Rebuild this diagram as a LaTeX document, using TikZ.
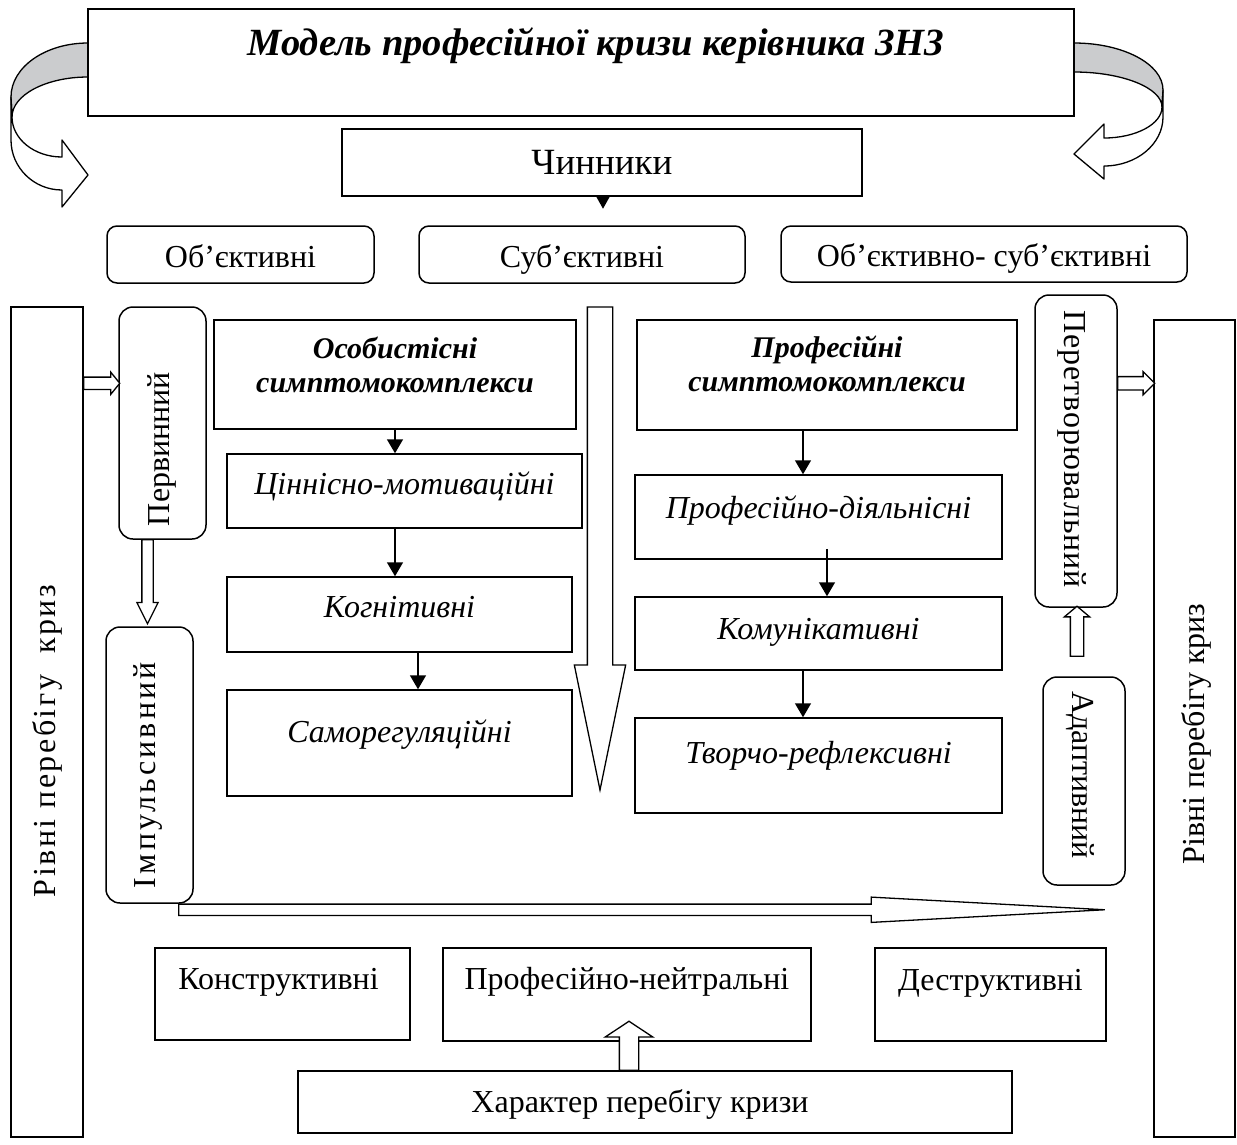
\documentclass[tikz,border=0pt]{standalone}
\usepackage{fontspec}
\setmainfont{Liberation Serif}
\usetikzlibrary{calc,shapes.arrows,arrows.meta}
\definecolor{BandGray}{HTML}{CBCCCE}
\newcommand{\normaltext}{\fontsize{32}{38}\selectfont}
\tikzset{
  box/.style={draw, line width=1.5, inner sep=0, font=\normaltext},
  rbox/.style={box, rounded corners=10, text height=25, text depth=0},
  lift/.style={text height=21, text depth=#1},
  symp/.style={box, font=\fontsize{32}{38}\selectfont\itshape},
  headbox/.style={box, align=center, font=\fontsize{30}{34}\selectfont\bfseries\itshape},
  vtext/.style={font=\normaltext, inner sep=0},
  spaced/.style={font=\normaltext\addfontfeature{LetterSpace=#1}},
  thin/.style={-{Triangle[length=14,width=16]}, line width=1.5},
  hollow/.style={single arrow, draw, fill=white, line width=1.3, inner xsep=0, outer sep=0, anchor=tail},
  band/.style={draw, line width=1.3, line join=round},
}

\begin{document}
\begin{tikzpicture}[x=1pt,y=-1pt]
  \useasboundingbox (0,0) rectangle (1237,1144);

  % curved arrows at the title
  \draw[band, fill=BandGray] (88,43) .. controls (45.5,43) and (11,67) .. (11,97) -- (12,117) .. controls (12,95) and (46,77) .. (88,77) -- cycle;
  \draw[band, fill=white] (11,97) -- (11,140) .. controls (11,167.6) and (33.8,190) .. (62,190) -- (62,207) -- (88,175) -- (62,140) -- (62,157) .. controls (34.4,157) and (12,139) .. (12,117) -- cycle;
  \draw[band, fill=BandGray] (1074,43) .. controls (1123,43) and (1163,64) .. (1163,90) -- (1162,107) .. controls (1162,88) and (1122.6,72) .. (1074,72) -- cycle;
  \draw[band, fill=white] (1163,90) -- (1163,117) .. controls (1163,144) and (1136.6,166) .. (1104,166) -- (1104,179) -- (1074,154) -- (1104,124) -- (1104,138) .. controls (1136,138) and (1162,124) .. (1162,107) -- cycle;

  \node[box, lift=40, text height=25.5, font=\fontsize{38.5}{42}\selectfont\bfseries\itshape, minimum width=986, minimum height=107] (title) at (581,62.5) {\hspace*{30pt}Модель професійної кризи керівника ЗНЗ};
  \node[box, font=\fontsize{37}{42}\selectfont, minimum width=520, minimum height=67] (chin) at (602,162.5) {Чинники};
  \coordinate (chintip) at ($(chin.south)+(1,12)$);
  \draw[-{Triangle[length=12,width=13]}, line width=1.5] ($(chin.south)+(1,0)$) -- (chintip);

  \node[rbox, minimum width=267, minimum height=57] (obj) at (240.5,254.5) {Об’єктивні};
  \node[rbox, minimum width=326, minimum height=57] (subj) at (582,254.5) {Суб’єктивні};
  \node[rbox, minimum width=406, minimum height=56] (objsubj) at (984,254) {Об’єктивно- суб’єктивні};

  % levels
  \node[box, minimum width=72, minimum height=830] (rivL) at (47,722) {};
  \node[vtext, spaced=8, rotate=90] (rivLtxt) at (47,741) {Рівні перебігу~ криз};
  \node[box, minimum width=81, minimum height=817] (rivR) at (1194.5,728.5) {};
  \node[vtext, rotate=90] (rivRtxt) at (1196,734) {Рівні перебігу криз};
  \node[rbox, rounded corners=14, minimum width=87, minimum height=232] (perv) at (162.5,423) {};
  \node[vtext, rotate=90] (pervtxt) at (162,449) {Первинний};
  \node[rbox, rounded corners=14, minimum width=87, minimum height=276] (imp) at (149.5,765) {};
  \node[vtext, spaced=10, rotate=90] (imptxt) at (148,775) {Імпульсивний};
  \node[rbox, rounded corners=14, minimum width=82, minimum height=312] (perekh) at (1076,451) {};
  \node[vtext, spaced=3, rotate=-90] (perekhtxt) at (1072,449) {Перетворювальний};
  \node[rbox, rounded corners=14, minimum width=82, minimum height=208] (adapt) at (1084,781) {};
  \node[vtext, rotate=-90] (adapttxt) at (1080,775) {Адаптивний};

  % symptom complexes
  \node[headbox, text depth=20, minimum width=362, minimum height=109] (os) at (395,374.5) {Особистісні\\симптомокомплекси};
  \node[symp, lift=14, minimum width=355, minimum height=74] (cm) at (404.5,491) {Ціннісно-мотиваційні};
  \node[symp, lift=15, minimum width=345, minimum height=75] (kog) at (399.5,614.5) {Когнітивні};
  \node[symp, lift=22, minimum width=345, minimum height=106] (samo) at (399.5,743) {Саморегуляційні};
  \node[headbox, text depth=22, minimum width=380, minimum height=110] (pr) at (827,375) {Професійні\\симптомокомплекси};
  \node[symp, lift=18, minimum width=367, minimum height=84] (pd) at (818.5,517) {Професійно-діяльнісні};
  \node[symp, lift=9, minimum width=367, minimum height=73] (km) at (818.5,633.5) {Комунікативні};
  \node[symp, lift=25, minimum width=367, minimum height=95] (tv) at (818.5,765.5) {Творчо-рефлексивні};

  \draw[thin] (os.south) -- ($(cm.north)+(-9.5,0)$);
  \draw[thin] ($(cm.south)+(-9.5,0)$) -- ($(kog.north)+(-4.5,0)$);
  \draw[thin] ($(kog.south)+(18.5,0)$) -- ($(samo.north)+(18.5,0)$);
  \draw[thin] ($(pr.south)+(-24,0)$) -- ($(pd.north)+(-15.5,0)$);
  \draw[thin] ($(pd.south)+(8.5,-11)$) -- ($(km.north)+(8.5,0)$);
  \draw[thin] ($(km.south)+(-15.5,0)$) -- ($(tv.north)+(-15.5,0)$);

  % course of the crisis
  \node[box, lift=30, minimum width=255, minimum height=92] (constr) at (282.5,994) {Конструктивні\hspace*{8pt}};
  \node[box, lift=31, minimum width=368, minimum height=93] (neut) at (627,994.5) {Професійно-нейтральні};
  \node[box, lift=30, minimum width=231, minimum height=93] (destr) at (990.5,994.5) {Деструктивні};
  \node[box, lift=0, minimum width=714, minimum height=62] (char) at (655,1102) {Характер перебігу кризи\hspace*{30pt}};

  % block arrows
  \node[hollow, minimum height=36, inner ysep=5.5, single arrow head extend=5, single arrow tip angle=102] (inL) at ($(rivL.north east)+(0,77)$) {};
  \node[hollow, minimum height=37, inner ysep=6, single arrow head extend=5, single arrow tip angle=90] (outR) at ($(perekh.north east)+(0,89)$) {};
  \node[hollow, rotate=-90, minimum height=84, inner ysep=5, single arrow head extend=5, single arrow tip angle=53] (pervdown) at ($(perv.south)+(-15,0)$) {};
  \node[hollow, rotate=90, minimum height=50, inner ysep=6, single arrow head extend=6, single arrow tip angle=100] (adaptup) at ($(adapt.north)+(-7,-20)$) {};
  \node[hollow, rotate=90, minimum height=49, inner ysep=9, single arrow head extend=14, single arrow tip angle=113] (charup) at ($(char.north -| neut.south)+(2,0)$) {};
  \coordinate (downtail) at (600,307);
  \node[hollow, rotate=-90, minimum height=483, inner ysep=12, single arrow head extend=13, single arrow tip angle=23.2] (down) at (downtail) {};
  \node[hollow, minimum height=926, inner ysep=5, single arrow head extend=7, single arrow tip angle=6.2] (across) at ($(imp.south east)+(-15,6)$) {};
\end{tikzpicture}
\end{document}
